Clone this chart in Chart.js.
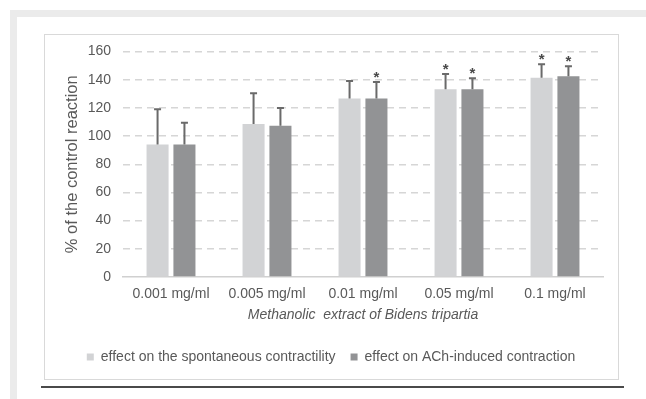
<!DOCTYPE html>
<html>
<head>
<meta charset="utf-8">
<script src="https://cdn.jsdelivr.net/npm/chart.js@4.4.1/dist/chart.umd.min.js"></script>
<style>
    body { margin: 0; background: #fff; width: 646px; height: 399px; overflow: hidden; position: relative; }
    #frame { position: absolute; left: 10px; top: 10px; right: 0; bottom: 0; border-top: 7px solid #ebebeb; border-left: 7px solid #ebebeb; }
    #box { position: absolute; left: 44px; top: 34px; width: 575px; height: 346px; box-sizing: border-box; border: 1px solid #d9d9d9; background: #fff; }
    #rule { position: absolute; left: 41px; top: 386px; width: 583px; height: 2px; background: #4a4a4a; }
    canvas { display: block; }
</style>
</head>
<body>
<div id="frame"></div>
<div id="box"><canvas id="effectChart" width="573" height="344"></canvas></div>
<div id="rule"></div>
<script>
var categories = ['0.001 mg/ml', '0.005 mg/ml', '0.01 mg/ml', '0.05 mg/ml', '0.1 mg/ml'];
var spontaneous = [94, 108.5, 126.7, 133.3, 141.3];
var spontaneousErr = [25, 21.8, 12.3, 10.7, 9.7];
var spontaneousSig = [false, false, false, true, true];
var achInduced = [94, 107.3, 126.7, 133.3, 142.5];
var achInducedErr = [15.4, 12.7, 11.6, 7.7, 7.1];
var achInducedSig = [false, false, true, true, true];

var textColor = '#595959';
var fontFamily = '"Liberation Sans", Arial, sans-serif';

// whiskers (upper only) and significance stars
var errorBars = {
    id: 'errorBars',
    afterDatasetsDraw: function(chart) {
        var ctx = chart.ctx;
        var yScale = chart.scales.y;
        ctx.save();
        chart.data.datasets.forEach(function(ds, i) {
            var meta = chart.getDatasetMeta(i);
            meta.data.forEach(function(bar, j) {
                var top = yScale.getPixelForValue(ds.data[j] + ds.errors[j]);
                ctx.strokeStyle = '#6a6a6a';
                ctx.lineWidth = 2;
                ctx.beginPath();
                ctx.moveTo(bar.x, bar.y);
                ctx.lineTo(bar.x, top);
                ctx.moveTo(bar.x - 3.5, top);
                ctx.lineTo(bar.x + 3.5, top);
                ctx.stroke();
                if (ds.sig[j]) {
                    ctx.fillStyle = '#4a4a4a';
                    ctx.font = 'bold 15px ' + fontFamily;
                    ctx.textAlign = 'center';
                    ctx.textBaseline = 'alphabetic';
                    ctx.fillText('*', bar.x, top);
                }
            });
        });
        ctx.restore();
    }
};

document.addEventListener('DOMContentLoaded', function() {
    var ctx = document.getElementById('effectChart').getContext('2d');
    var chart = new Chart(ctx, {
        type: 'bar',
        data: {
            labels: categories,
            datasets: [{
                label: 'effect on the spontaneous contractility',
                data: spontaneous,
                errors: spontaneousErr,
                sig: spontaneousSig,
                backgroundColor: '#d2d3d5',
                categoryPercentage: 0.56,
                barPercentage: 0.82
            }, {
                label: 'effect on ACh-induced contraction',
                data: achInduced,
                errors: achInducedErr,
                sig: achInducedSig,
                backgroundColor: '#929395',
                categoryPercentage: 0.56,
                barPercentage: 0.82
            }]
        },
        options: {
            responsive: false,
            animation: false,
            devicePixelRatio: 1,
            layout: {
                padding: { left: 14, top: 16.5, right: 15, bottom: 5 }
            },
            scales: {
                x: {
                    grid: { display: false, drawTicks: false },
                    border: { display: true, color: '#d0d0d0', width: 1.5 },
                    ticks: { color: textColor, font: { family: fontFamily, size: 14 }, padding: 9 },
                    title: {
                        display: true,
                        text: 'Methanolic  extract of Bidens tripartia',
                        color: textColor,
                        font: { family: fontFamily, size: 14, style: 'italic' },
                        padding: { top: 4, bottom: 11 }
                    },
                    afterFit: function(scale) { scale.height = 58; }
                },
                y: {
                    min: 0,
                    max: 160,
                    ticks: { stepSize: 20, color: textColor, font: { family: fontFamily, size: 14 }, padding: 12 },
                    grid: {
                        drawTicks: false,
                        color: function(c) { return c.tick && c.tick.value === 0 ? 'rgba(0,0,0,0)' : '#d6d6d6'; },
                        lineWidth: 1.5
                    },
                    border: { display: false, dash: [7, 5] },
                    title: {
                        display: true,
                        text: '% of the control reaction',
                        color: textColor,
                        font: { family: fontFamily, size: 16.5 },
                        padding: { top: 4, bottom: 4 }
                    },
                    // keep the tick padding from pushing the plot top down
                    afterFit: function(scale) {
                        scale.width = 64;
                        scale.paddingTop = 8;
                        scale.paddingBottom = 8;
                    }
                }
            },
            plugins: {
                legend: {
                    position: 'bottom',
                    labels: {
                        color: textColor,
                        font: { family: fontFamily, size: 14 },
                        boxWidth: 7,
                        boxHeight: 7,
                        padding: 15
                    }
                },
                tooltip: { enabled: false }
            }
        },
        plugins: [errorBars]
    });
});
</script>
</body>
</html>
